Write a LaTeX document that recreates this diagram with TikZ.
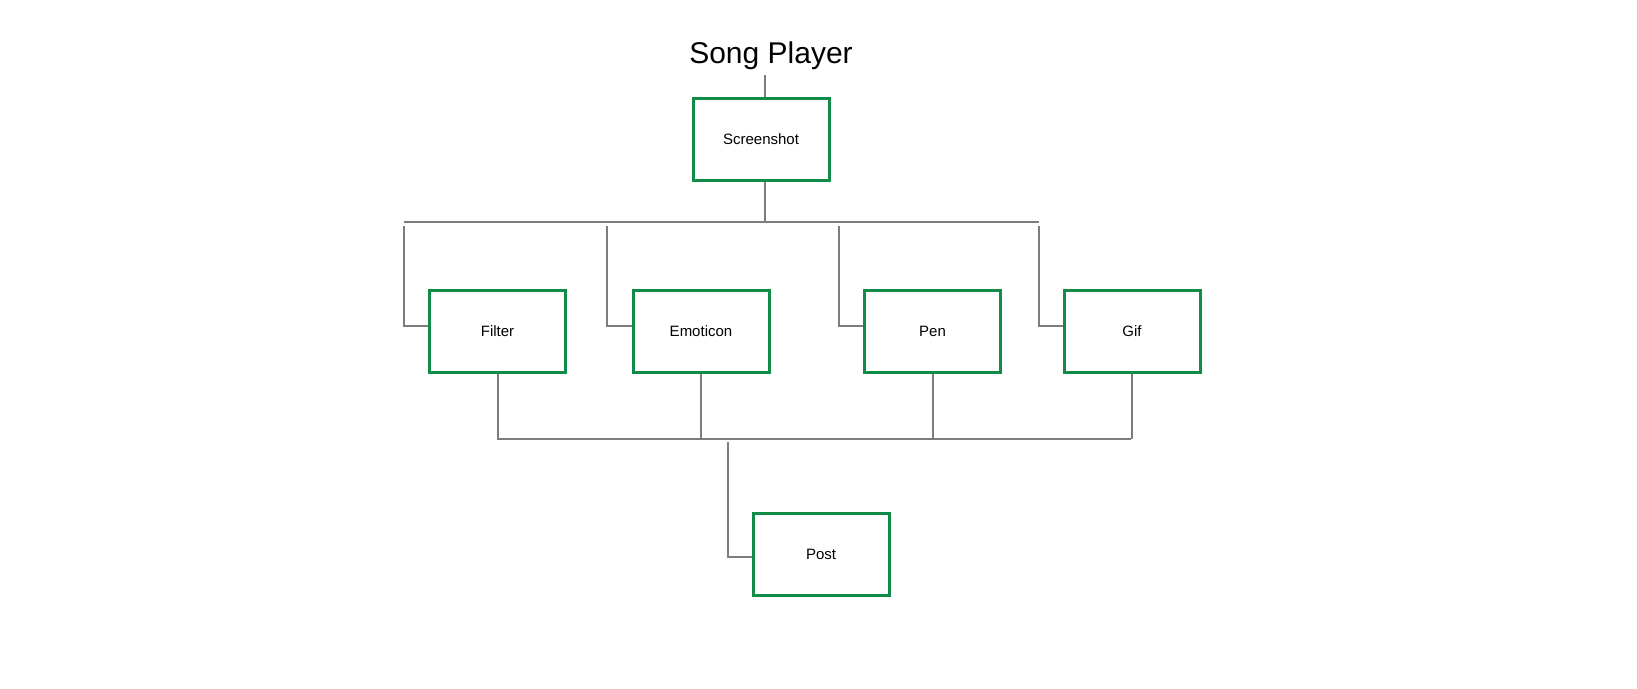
\documentclass[tikz,border=0pt]{standalone}
\usepackage{fontspec}
\setmainfont{Liberation Sans}
\usetikzlibrary{positioning}
\definecolor{boxgreen}{RGB}{16,140,72}
\definecolor{linegray}{RGB}{125,125,125}
\tikzset{
  screen/.style={draw=boxgreen,line width=3pt,minimum width=136pt,minimum height=82pt,inner sep=0pt,font=\fontsize{15}{18}\selectfont},
  link/.style={draw=linegray,line width=2pt}
}
\begin{document}
\begin{tikzpicture}[x=1pt,y=-1pt]
\useasboundingbox (0,0) rectangle (1637,688);

% Text Node
\node (title) at (771,56) {\fontsize{30}{36}\selectfont Song Player};
%Shapes: Boxes
\node[screen] (screenshot) at (761,139) {Screenshot};
\node[screen] (filter) at (497.5,331) {Filter};
\node[screen] (emoticon) at (701,331) {Emoticon};
\node[screen] (pen) at (932.5,331) {Pen};
\node[screen] (gif) at (1132,331) {Gif};
\node[screen] (post) at (821,554) {Post};

%Bus coordinates
\coordinate (topL) at (404,222);
\coordinate (topR) at (1039,222);
\coordinate (topM) at (765,222);
\coordinate (botL) at (497,439);
\coordinate (botR) at (1131,439);
\coordinate (botM) at (728,442);

%Straight Lines
\draw[link] (765,75) -- (765,97);
\draw[link] (screenshot.south -| topM) -- (topM);
\draw[link] (topL) -- (topR);
\foreach \x/\b in {404/filter,607/emoticon,839/pen,1039/gif}
  \draw[link] (\x,226) |- (\b.west |- 0,326);
\foreach \b in {filter,emoticon,pen,gif}
  \draw[link] (\b.south) -- (\b.south |- botL);
\draw[link] (botL) -- (botR);
\draw[link] (botM) |- (post.west |- 0,557);

\end{tikzpicture}
\end{document}
